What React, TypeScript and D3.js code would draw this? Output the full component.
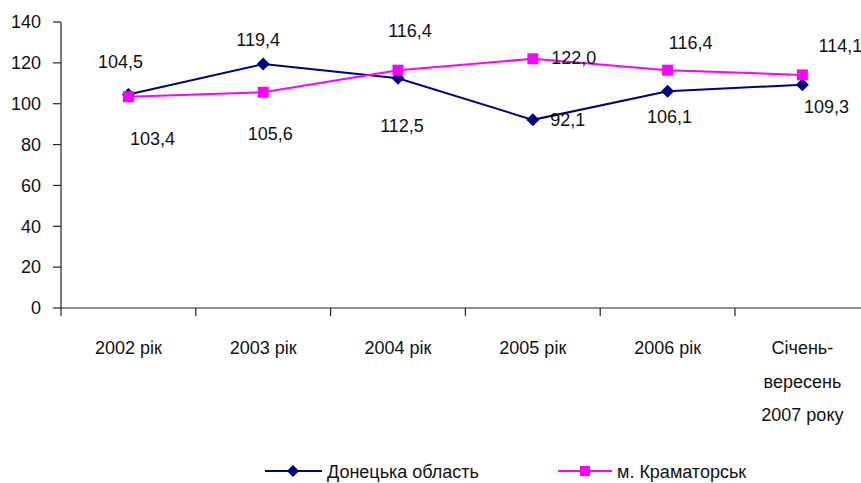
import React from "react";
import * as d3 from "d3";

const categories: string[][] = [
  ["2002 рік"],
  ["2003 рік"],
  ["2004 рік"],
  ["2005 рік"],
  ["2006 рік"],
  ["Січень-", "вересень", "2007 року"],
];
const donetsk = [104.5, 119.4, 112.5, 92.1, 106.1, 109.3];
const kramatorsk = [103.4, 105.6, 116.4, 122.0, 116.4, 114.1];
const seriesNames = ["Донецька область", "м. Краматорськ"];
const yTicks = [0, 20, 40, 60, 80, 100, 120, 140];

// label offsets (layout), relative to the point: [dx, dy of baseline]
const donetskLabelOffsets: [number, number][] = [
  [-8, -27], [-5, -18], [4, 54], [35, 6], [2, 32], [24, 28],
];
const kramatorskLabelOffsets: [number, number][] = [
  [24, 48], [7, 48], [12, -33], [41, 5], [23, -21], [38, -23],
];

const W = 861;
const H = 483;
const left = 61;
const step = 134.8;
const x0 = 308;
const yTop = 22;
const FONT = "'Liberation Sans', Arial, sans-serif";
const NAVY = "#000080";
const MAGENTA = "#FF00FF";

const fmt = (v: number) => v.toFixed(1).replace(".", ",");

export default function App() {
  const x = d3
    .scaleBand<number>()
    .domain(categories.map((_, i) => i))
    .range([left, left + step * categories.length]);
  const y = d3.scaleLinear().domain([0, 140]).range([x0, yTop]);
  const cx = (i: number) => (x(i) as number) + x.bandwidth() / 2;

  const line = d3
    .line<number>()
    .x((_, i) => cx(i))
    .y((d) => y(d));

  const diamond = (px: number, py: number, r: number) =>
    `M${px},${py - r}L${px + r},${py}L${px},${py + r}L${px - r},${py}Z`;

  const tickPositions = d3.range(categories.length + 1).map((i) => left + i * step);

  return (
    <svg
      width={W}
      height={H}
      style={{ position: "absolute", left: 0, top: 0, background: "#fff" }}
      fontFamily={FONT}
    >
      {/* Y axis */}
      <line x1={left} x2={left} y1={y(140)} y2={x0} stroke="#222" strokeWidth={1.2} />
      {yTicks.map((t) => (
        <g key={t}>
          <line x1={left - 8} x2={left} y1={y(t)} y2={y(t)} stroke="#222" strokeWidth={1.2} />
          <text
            x={41}
            y={y(t)}
            dy="0.35em"
            textAnchor="end"
            fontSize={18}
            fill="#111"
          >
            {t}
          </text>
        </g>
      ))}
      {/* X axis */}
      <line x1={left} x2={W + 10} y1={x0} y2={x0} stroke="#222" strokeWidth={1.2} />
      {tickPositions.map((p, i) => (
        <line key={i} x1={p} x2={p} y1={x0} y2={x0 + 8} stroke="#222" strokeWidth={1.2} />
      ))}
      {categories.map((lines, i) =>
        lines.map((s, j) => (
          <text
            key={i + "-" + j}
            x={cx(i)}
            y={354 + j * 33.5}
            textAnchor="middle"
            fontSize={18}
            fill="#111"
          >
            {s}
          </text>
        ))
      )}

      {/* Lines and markers */}
      <path d={line(donetsk) || ""} fill="none" stroke={NAVY} strokeWidth={2} />
      {donetsk.map((v, i) => (
        <path key={"d" + i} d={diamond(cx(i), y(v), 6.5)} fill={NAVY} />
      ))}
      <path d={line(kramatorsk) || ""} fill="none" stroke={MAGENTA} strokeWidth={2} />
      {kramatorsk.map((v, i) => (
        <rect
          key={"k" + i}
          x={cx(i) - 5.5}
          y={y(v) - 5.5}
          width={11}
          height={11}
          fill={MAGENTA}
        />
      ))}

      {/* Data labels */}
      {donetsk.map((v, i) => (
        <text
          key={"dl" + i}
          x={cx(i) + donetskLabelOffsets[i][0]}
          y={y(v) + donetskLabelOffsets[i][1]}
          textAnchor="middle"
          fontSize={18}
          fill="#111"
        >
          {fmt(v)}
        </text>
      ))}
      {kramatorsk.map((v, i) => (
        <text
          key={"kl" + i}
          x={cx(i) + kramatorskLabelOffsets[i][0]}
          y={y(v) + kramatorskLabelOffsets[i][1]}
          textAnchor="middle"
          fontSize={18}
          fill="#111"
        >
          {fmt(v)}
        </text>
      ))}

      {/* Legend */}
      <g>
        <line x1={265} x2={322} y1={471} y2={471} stroke={NAVY} strokeWidth={2} />
        <path d={diamond(293, 471, 6)} fill={NAVY} />
        <text x={327} y={478} fontSize={18} fill="#111">
          {seriesNames[0]}
        </text>
        <line x1={558} x2={612} y1={471} y2={471} stroke={MAGENTA} strokeWidth={2} />
        <rect x={580} y={466} width={10} height={10} fill={MAGENTA} />
        <text x={617} y={478} fontSize={18} fill="#111">
          {seriesNames[1]}
        </text>
      </g>
    </svg>
  );
}
